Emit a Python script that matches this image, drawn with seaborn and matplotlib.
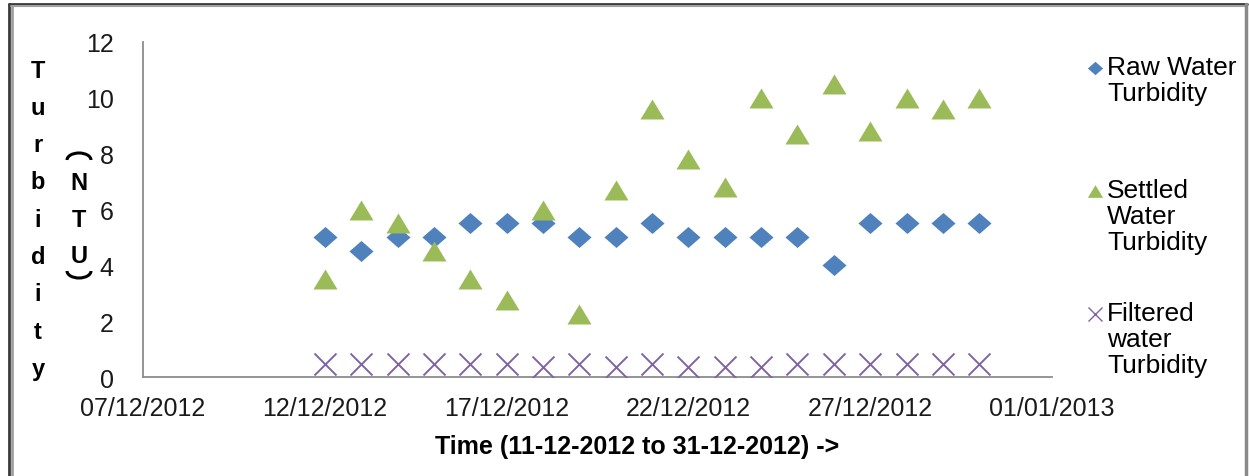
import numpy as np
import pandas as pd
import matplotlib
matplotlib.use("Agg")
import matplotlib.pyplot as plt
from matplotlib.lines import Line2D
from matplotlib.patches import Arc
import seaborn as sns

# ---- data -------------------------------------------------------------
dates = pd.date_range("2012-12-12", "2012-12-30", freq="D")
raw_water = [5, 4.5, 5, 5, 5.5, 5.5, 5.5, 5, 5, 5.5, 5, 5, 5, 5, 4, 5.5, 5.5, 5.5, 5.5]
settled_water = [3.5, 6, 5.5, 4.5, 3.5, 2.75, 6, 2.25, 6.7, 9.6, 7.8, 6.8, 10, 8.7, 10.5, 8.8, 10, 9.6, 10]
filtered_water = [0.45, 0.45, 0.45, 0.45, 0.45, 0.45, 0.35, 0.45, 0.35, 0.45, 0.35, 0.35, 0.35,
                  0.45, 0.45, 0.45, 0.45, 0.45, 0.45]
series_names = ["Raw Water\nTurbidity", "Settled\nWater\nTurbidity", "Filtered\nwater\nTurbidity"]
tick_labels = ["07/12/2012", "12/12/2012", "17/12/2012", "22/12/2012", "27/12/2012", "01/01/2013"]
y_ticks = [0, 2, 4, 6, 8, 10, 12]

colors = ["#4F81BD", "#9BBB59", "#8064A2"]

# ---- figure -----------------------------------------------------------
sns.set_theme(style="white")
plt.rcParams["font.family"] = ["Liberation Sans", "DejaVu Sans"]

W, H = 1249, 477
fig = plt.figure(figsize=(W / 100, H / 100), dpi=100)
fig.patch.set_facecolor("white")


def fx(x):
    return x / W


def fy(y):
    return 1 - y / H


ax = fig.add_axes([fx(143), fy(378), fx(1052) - fx(143), fy(43) - fy(378)])
ax.set_facecolor("white")

diamond = [(-1, 0), (0, 0.875), (1, 0), (0, -0.875)]
triangle = [(-1, -0.83), (1, -0.83), (0, 0.83)]

df = pd.DataFrame({
    "date": np.concatenate([dates, dates, dates]),
    "value": raw_water + settled_water + filtered_water,
    "series": np.repeat(series_names, len(dates)),
})

sns.scatterplot(data=df[df.series == series_names[0]], x="date", y="value", ax=ax,
                marker=diamond, s=300, color=colors[0], linewidth=0, legend=False, zorder=3)
sns.scatterplot(data=df[df.series == series_names[1]], x="date", y="value", ax=ax,
                marker=triangle, s=300, color=colors[1], linewidth=0, legend=False, zorder=4)
sns.scatterplot(data=df[df.series == series_names[2]], x="date", y="value", ax=ax,
                marker="x", s=250, color=colors[2], linewidth=1.4, legend=False, zorder=5)

tick_dates = pd.to_datetime(tick_labels, dayfirst=True)
ax.set_xlim(tick_dates[0], tick_dates[-1])
ax.set_xticks(tick_dates)
ax.set_xticklabels(tick_labels)
ax.set_ylim(0, 12)
ax.set_yticks(y_ticks)
ax.set_yticklabels([str(v) for v in y_ticks])

for side in ["top", "right"]:
    ax.spines[side].set_visible(False)
for side in ["left", "bottom"]:
    ax.spines[side].set_color("#8C8C8C")
    ax.spines[side].set_linewidth(1.3)
ax.tick_params(axis="both", which="both", direction="out", width=1.3,
               color="#8C8C8C", labelsize=18, labelcolor="#1a1a1a")
ax.tick_params(axis="x", length=6, pad=8)
ax.tick_params(axis="y", length=7, pad=14)
ax.set_xlabel("")
ax.set_ylabel("")
ax.grid(False)

# x-axis title
fig.text(fx(637), fy(447), "Time (11-12-2012 to 31-12-2012) ->", ha="center", va="center",
         fontsize=18, fontweight="bold", color="black")

# stacked y-axis title
for i, ch in enumerate("Turbidity"):
    fig.text(fx(38), fy(71 + i * 37.3), ch, ha="center", va="center",
             fontsize=17, fontweight="bold", color="black")
for ch, y in [("N", 183), ("T", 221), ("U", 257)]:
    fig.text(fx(79), fy(y), ch, ha="center", va="center",
             fontsize=17, fontweight="bold", color="black")
# parentheses of the stacked unit, turned sideways
for yc, t1, t2 in [(161, 0, 180), (272, 180, 360)]:
    fig.add_artist(Arc((fx(79), fy(yc)), 24 / W, 14 / H, theta1=t1, theta2=t2,
                       linewidth=2.2, color="black", transform=fig.transFigure))

# legend at the right
legend_rows = [
    (69, diamond, colors[0], 11, 0),
    (192, triangle, colors[1], 11, 0),
    (315, "x", colors[2], 10, 1.0),
]
for (y, mk, col, ms, mew), name in zip(legend_rows, series_names):
    fig.add_artist(Line2D([fx(1095)], [fy(y)], marker=mk, markersize=ms, color=col,
                          markeredgewidth=mew, linestyle="none", transform=fig.transFigure))
    fig.text(fx(1107), fy(y - 13), name, ha="left", va="top", fontsize=19,
             linespacing=1.1, color="black")

# outer frame
frame = [
    ([fx(9), fx(9)], [fy(5), 0], "#3a3a3a", 2.0),
    ([fx(11.5), fx(11.5)], [fy(7), 0], "#a0a0a0", 2.0),
    ([fx(9), fx(1247)], [fy(5), fy(5)], "#3a3a3a", 2.0),
    ([fx(11), fx(1245)], [fy(7), fy(7)], "#a0a0a0", 1.5),
    ([fx(1246), fx(1246)], [fy(5), 0], "#8a8a8a", 2.5),
]
for xs, ys, col, lw in frame:
    fig.add_artist(Line2D(xs, ys, color=col, linewidth=lw, transform=fig.transFigure))

fig.savefig("out.png", dpi=100)
